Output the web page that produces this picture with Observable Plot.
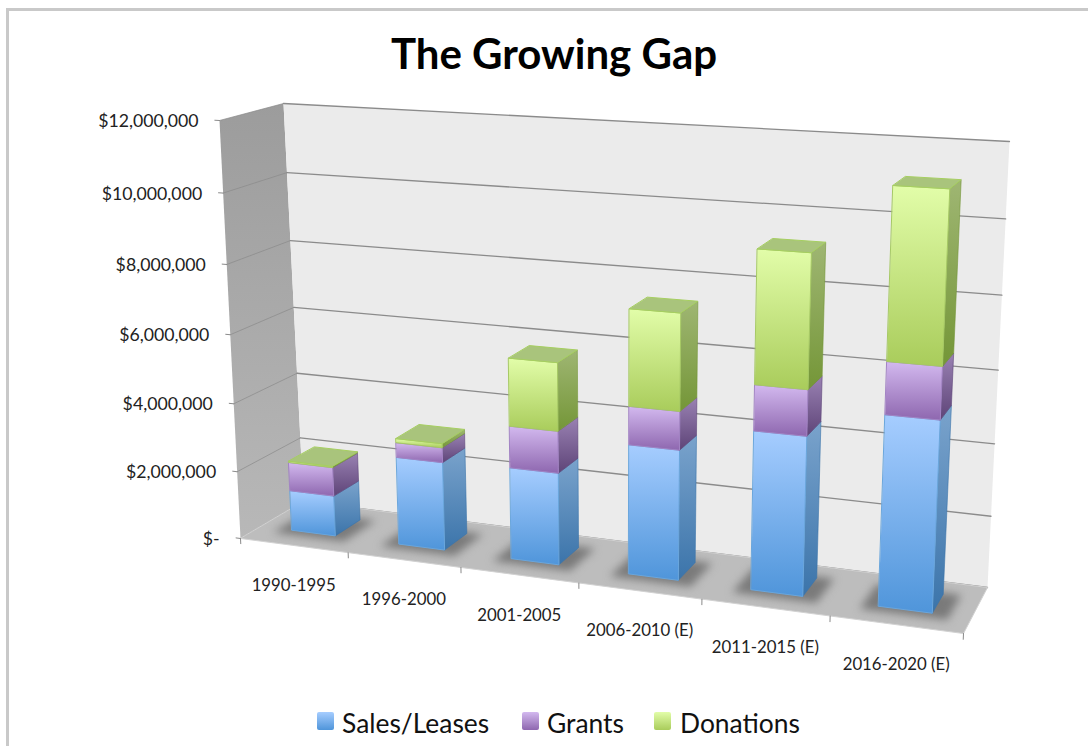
<!DOCTYPE html>
<html><head><meta charset="utf-8">
<script src="https://cdn.jsdelivr.net/npm/d3@7"></script>
<script src="https://cdn.jsdelivr.net/npm/@observablehq/plot@0.6"></script>
<style>
html,body{margin:0;padding:0;background:#fff;}
#page{position:relative;width:1088px;height:746px;overflow:hidden;font-family:Lato,sans-serif;color:#111;}
#frameTop{position:absolute;left:6px;top:8px;right:0;height:3px;background:#c9c9c9;}
#frameLeft{position:absolute;left:6px;top:8px;bottom:0;width:3px;background:#c9c9c9;}
#title{position:absolute;left:0;width:1108px;top:28px;text-align:center;font:700 42px Lato,sans-serif;color:#000;line-height:50px;}
#chart{position:absolute;left:0;top:90px;}
#legend{position:absolute;left:0;top:706px;height:30px;font:26.4px Lato,sans-serif;line-height:30px;color:#111;white-space:nowrap;}
#legend span.s{position:absolute;top:6px;width:17px;height:18px;border-radius:2px;}
#legend span.t{position:absolute;top:2px;}
</style></head>
<body>
<div id="page">
<div id="frameTop"></div><div id="frameLeft"></div>
<div id="title">The Growing Gap</div>
<div id="chart"></div>
<div id="legend"></div>
</div>
<script>
const categories = ["1990-1995","1996-2000","2001-2005","2006-2010 (E)","2011-2015 (E)","2016-2020 (E)"];
const seriesNames = ["Sales/Leases","Grants","Donations"];
const sales     = [1200000,2570000,2640000,3660000,4400000,5180000];
const grants    = [850000,430000,1190000,1070000,1250000,1400000];
const donations = [40000,120000,1920000,2670000,3600000,4520000];
const valueTicks = [0,2000000,4000000,6000000,8000000,10000000,12000000];
const valueLabels = ["$-","$2,000,000","$4,000,000","$6,000,000","$8,000,000","$10,000,000","$12,000,000"];
const swatches = [
  {front:["#a6cdff","#4f95da"],side:["#7aa3cc","#3b74aa"],edge:"#6aa6dc"},
  {front:["#d3b9ef","#8e67af"],side:["#9a82b3","#5e4478"],edge:"#a283c4"},
  {front:["#e2fda9","#a9cc5b"],side:["#9fb673","#749637"],edge:"#a6c964"}
];
const allSeries = [sales,grants,donations];
const legendSwatchX = [317,522,654];
const legendTextX = [342,547,680];

// The box of the 3D chart: where its eight corners fall on the page
const corner = {
  "000":[240,538],"100":[963,633],"010":[303,501],"110":[987,587],
  "001":[219,120],"101":[984,161],"011":[283,103],"111":[1009,141]
};
const warpU = u => u - 0.128*u*(1-u);
const warpV = v => v - 0.05*v*(1-v);
function project({u,d,v}){
  const U=warpU(u), V=warpV(v);
  const out=[0,0];
  for(const a of [0,1]) for(const b of [0,1]) for(const c of [0,1]){
    const w=(a?U:1-U)*(b?d:1-d)*(c?V:1-V);
    const p=corner[`${a}${b}${c}`];
    out[0]+=w*p[0]; out[1]+=w*p[1];
  }
  return out;
}
const X = r => project(r)[0];
const Y = r => project(r)[1];
const vOf = value => value/12000000;

const BAR_HALF = 0.0342, D0 = 0.33, D1 = 0.75;
function poly(id, pts){ return pts.map(([u,d,v])=>({id,u,d,v})); }
function rowsFor(seriesIndex, face){
  const rows=[];
  categories.forEach((c,i)=>{
    let base=0; for(let s=0;s<seriesIndex;s++) base+=allSeries[s][i];
    const v0=vOf(base), v1=vOf(base+allSeries[seriesIndex][i]);
    const uc=(i+0.5)/categories.length, a=uc-BAR_HALF, b=uc+BAR_HALF;
    if(face==="front") rows.push(...poly(c,[[a,D0,v1],[b,D0,v1],[b,D0,v0],[a,D0,v0]]));
    if(face==="side")  rows.push(...poly(c,[[b,D0,v1],[b,D1,v1],[b,D1,v0],[b,D0,v0]]));
    if(face==="top")   rows.push(...poly(c,[[a,D0,v1],[b,D0,v1],[b,D1,v1],[a,D1,v1]]));
  });
  return rows;
}
const shadowRows = categories.flatMap((c,i)=>{
  const uc=(i+0.5)/categories.length, a=uc-BAR_HALF-0.02, b=uc+BAR_HALF+0.022;
  return poly(c,[[a,D0-0.1,0],[b,D0-0.1,0],[b,D1+0.03,0],[a,D1+0.03,0]]);
});

const lineP = (rows,o)=>Plot.line(rows,{x:X,y:Y,z:"id",curve:"linear-closed",...o});
const gridBack = valueTicks.flatMap(t=>poly(t,[[0,1,vOf(t)],[1,1,vOf(t)]]));
const gridLeft = valueTicks.flatMap(t=>poly(t,[[0,0,vOf(t)],[0,1,vOf(t)]]));
const tickValue = valueTicks.flatMap(t=>poly(t,[[-0.007,0,vOf(t)],[0,0,vOf(t)]]));
const catEdges = d3.range(categories.length+1);
const tickCat = catEdges.flatMap(k=>poly(k,[[k/categories.length,0,0],[k/categories.length,0,-0.013]]));

const defs = () => {
  const g=d3.create("svg:g"), dd=g.append("defs");
  const grad=(id,a,b)=>{
    const l=dd.append("linearGradient").attr("id",id).attr("x1",0).attr("y1",0).attr("x2",0).attr("y2",1);
    l.append("stop").attr("offset","0%").attr("stop-color",a);
    l.append("stop").attr("offset","100%").attr("stop-color",b);
  };
  swatches.forEach((s,i)=>{grad(`front${i}`,...s.front);grad(`side${i}`,...s.side);});
  grad("wall","#9c9c9c","#b8b8b8");
  return g.node();
};

const barMarks = seriesNames.flatMap((n,i)=>[
  lineP(rowsFor(i,"side"),{fill:`url(#side${i})`,stroke:swatches[i].side[1],strokeWidth:0.6}),
  lineP(rowsFor(i,"front"),{fill:`url(#front${i})`,stroke:swatches[i].edge,strokeWidth:1})
]);

const plot = Plot.plot({
  width:1088,height:610,margin:0,
  x:{domain:[0,1088],range:[0,1088],axis:null},
  y:{domain:[90,700],range:[0,610],axis:null},
  style:{background:"transparent",fontFamily:"Lato, sans-serif"},
  marks:[
    defs,
    lineP(poly("left",[[0,0,0],[0,1,0],[0,1,1],[0,0,1]]),{fill:"url(#wall)"}),
    lineP(poly("back",[[0,1,0],[1,1,0],[1,1,1],[0,1,1]]),{fill:"#ebebeb"}),
    Plot.line(gridLeft,{x:X,y:Y,z:"id",stroke:"#8a8a8a",strokeWidth:0.7}),
    Plot.line(gridBack,{x:X,y:Y,z:"id",stroke:"#8b8b8b",strokeWidth:1.3}),
    lineP(poly("floor",[[0,0,0],[1,0,0],[1,1,0],[0,1,0]]),{fill:"#bdbdbd",stroke:"#d2d2d2",strokeWidth:1}),
    lineP(shadowRows,{fill:"#7a7a7a",imageFilter:"blur(4px)"}),
    Plot.line(tickValue,{x:X,y:Y,z:"id",stroke:"#8a8a8a",strokeWidth:1}),
    Plot.line(tickCat,{x:X,y:Y,z:"id",stroke:"#8a8a8a",strokeWidth:1}),
    ...barMarks,
    lineP(rowsFor(2,"top"),{fill:"#a9c47c",stroke:"#a6cf60",strokeWidth:1}),
    Plot.text(valueTicks.map((t,i)=>({u:0,d:0,v:vOf(t),label:valueLabels[i]})),
      {x:X,y:Y,text:"label",textAnchor:"end",dx:-21,dy:1,fontSize:17.7,fill:"#222"}),
    Plot.text(categories.map((c,i)=>({u:(i+0.5)/categories.length,d:0,v:0,label:c})),
      {x:X,y:Y,text:"label",textAnchor:"middle",dy:40,dx:0,fontSize:16.8,fill:"#222"})
  ]
});
document.getElementById("chart").append(plot);

const lg=d3.select("#legend");
seriesNames.forEach((n,i)=>{
  lg.append("span").attr("class","s")
    .style("left",legendSwatchX[i]+"px")
    .style("background",`linear-gradient(${swatches[i].front[0]},${swatches[i].front[1]})`);
  lg.append("span").attr("class","t").style("left",legendTextX[i]+"px").text(n);
});
</script>
</body></html>
